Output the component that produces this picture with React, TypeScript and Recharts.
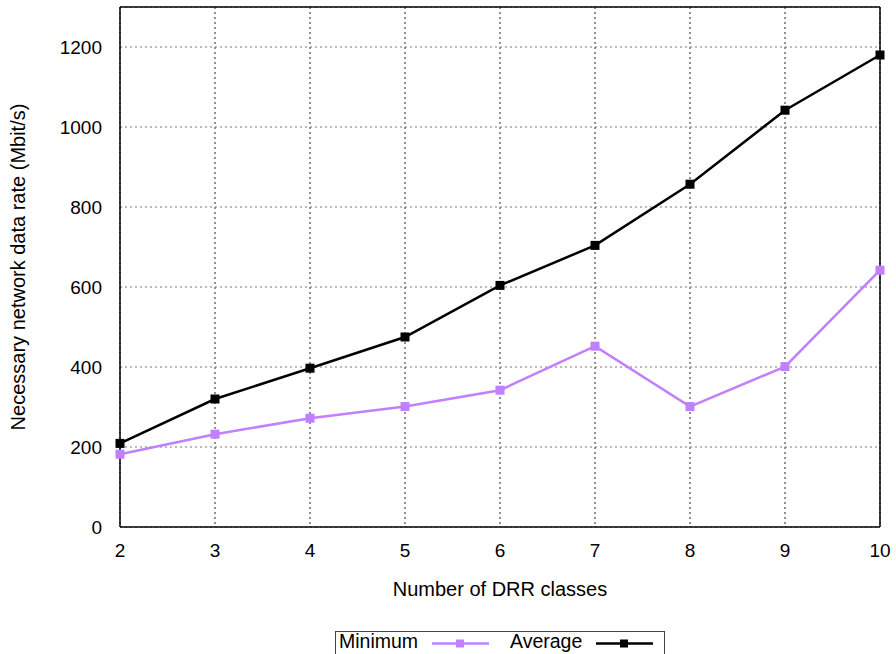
import React from "react";
import {
  LineChart,
  Line,
  XAxis,
  YAxis,
  CartesianGrid,
  ReferenceLine,
  Label,
} from "recharts";

const classes = [2, 3, 4, 5, 6, 7, 8, 9, 10];
const minimum = [182, 232, 272, 301, 342, 452, 301, 401, 642];
const average = [209, 320, 397, 475, 604, 704, 857, 1042, 1180];
const yTicks = [0, 200, 400, 600, 800, 1000, 1200];

const PURPLE = "#c080ff";
const FONT = "'Liberation Sans', Arial, sans-serif";

const data = classes.map((c, i) => ({ c, min: minimum[i], avg: average[i] }));

function squareDot(color: string, size: number) {
  return (props: any) => {
    const { cx, cy, index } = props;
    if (cx == null || cy == null) return null;
    return (
      <rect
        key={`d-${index}`}
        x={cx - size / 2}
        y={cy - size / 2}
        width={size}
        height={size}
        fill={color}
      />
    );
  };
}

function LegendBox() {
  return (
    <svg
      width={896}
      height={654}
      style={{ position: "absolute", left: 0, top: 0, pointerEvents: "none" }}
    >
      <rect x={335.5} y={631.5} width={329} height={40} fill="none" stroke="#444" strokeWidth={1} />
      <text x={339} y={648} fontFamily={FONT} fontSize={19.5} fill="#000">
        Minimum
      </text>
      <line x1={432} y1={643.5} x2={489} y2={643.5} stroke={PURPLE} strokeWidth={2.5} />
      <rect x={456} y={639.5} width={8} height={8} fill={PURPLE} />
      <text x={510} y={648} fontFamily={FONT} fontSize={19.5} fill="#000">
        Average
      </text>
      <line x1={596} y1={643.5} x2={653} y2={643.5} stroke="#000" strokeWidth={2.5} />
      <rect x={620} y={639.5} width={8} height={8} fill="#000" />
    </svg>
  );
}

export default function App() {
  return (
    <div style={{ position: "absolute", left: 0, top: 0, width: 896, height: 654, background: "#fff" }}>
      <LineChart
        width={896}
        height={654}
        data={data}
        margin={{ top: 7, right: 16, left: 0, bottom: 0 }}
      >
        <CartesianGrid horizontal={false} stroke="#222" strokeDasharray="2 3" />
        <CartesianGrid vertical={false} stroke="#777" strokeDasharray="2 3" />
        <XAxis
          dataKey="c"
          type="number"
          domain={[2, 10]}
          ticks={classes}
          height={127}
          tickLine={false}
          axisLine={{ stroke: "#000", strokeWidth: 1.5 }}
          tick={{ fill: "#000", fontSize: 19, fontFamily: FONT }}
          tickMargin={11}
        >
          <Label
            value="Number of DRR classes"
            position="insideTop"
            offset={55}
            style={{ fill: "#000", fontSize: 20, fontFamily: FONT }}
          />
        </XAxis>
        <YAxis
          type="number"
          domain={[0, 1300]}
          ticks={yTicks}
          width={120}
          tickLine={false}
          axisLine={{ stroke: "#000", strokeWidth: 1.5 }}
          tick={{ fill: "#000", fontSize: 19, fontFamily: FONT }}
          tickMargin={12}
        >
          <Label
            value="Necessary network data rate (Mbit/s)"
            angle={-90}
            position="insideLeft"
            offset={18}
            style={{ textAnchor: "middle", fill: "#000", fontSize: 20, fontFamily: FONT }}
          />
        </YAxis>
        <ReferenceLine y={1300} stroke="#000" strokeWidth={1.5} />
        <ReferenceLine x={10} stroke="#000" strokeWidth={1.5} />
        <Line
          dataKey="min"
          stroke={PURPLE}
          strokeWidth={2.5}
          dot={squareDot(PURPLE, 9)}
          activeDot={false}
          isAnimationActive={false}
        />
        <Line
          dataKey="avg"
          stroke="#000"
          strokeWidth={2.5}
          dot={squareDot("#000", 9)}
          activeDot={false}
          isAnimationActive={false}
        />
      </LineChart>
      <LegendBox />
    </div>
  );
}
